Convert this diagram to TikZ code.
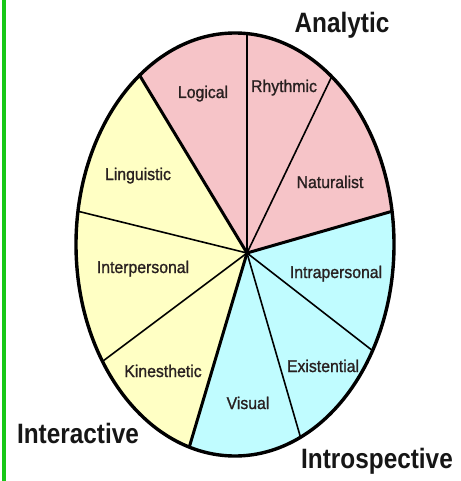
\documentclass[tikz,border=0pt]{standalone}
\usepackage{fontspec}
\setmainfont{Liberation Sans}
\newfontfamily\segfont[FakeBold=1.2]{Liberation Sans}
\usetikzlibrary{calc}
\definecolor{pinkfill}{RGB}{246,196,200}
\definecolor{yellowfill}{RGB}{255,255,196}
\definecolor{cyanfill}{RGB}{192,252,255}
\definecolor{segtext}{RGB}{40,32,32}
\definecolor{grouptext}{RGB}{22,22,22}
\definecolor{bargreen}{RGB}{24,200,24}
\newcommand{\segtxt}[1]{\scalebox{0.93}[1]{#1}}
\newcommand{\grptxt}[1]{\scalebox{0.87}[1]{#1}}
\begin{document}
\begin{tikzpicture}[x=1pt,y=-1pt,
  outline/.style={line width=3.4pt},
  thickspoke/.style={line width=3pt},
  thinspoke/.style={line width=1.6pt},
  seglabel/.style={anchor=base, inner sep=0pt, text=segtext, font=\segfont\fontsize{17}{17}\selectfont},
  grouplabel/.style={anchor=base, inner sep=0pt, text=grouptext, font=\fontsize{28}{28}\selectfont\bfseries}]
\useasboundingbox (0,0) rectangle (460,481);
\fill[white] (0,0) rectangle (460,481);
\fill[bargreen] (2,0) rectangle (6,481);
\coordinate (C) at (235,244.5);
\coordinate (hub) at (247,253);
\coordinate (pTop) at (247,33);
\coordinate (pLogLin) at (140,76);
\coordinate (pLinInt) at (77,211);
\coordinate (pIntKin) at (103,361);
\coordinate (pKinVis) at (189,448);
\coordinate (pVisExi) at (301,439);
\coordinate (pExiIntra) at (373,351);
\coordinate (pIntraNat) at (393,211);
\coordinate (pNatRhy) at (332,76);
\begin{scope}
  \clip (C) ellipse [x radius=159pt, y radius=211.5pt];
  \fill[pinkfill] (hub) -- ($(hub)!3!(pLogLin)$) -- ($(hub)!3!(pTop)$) -- ($(hub)!3!(pNatRhy)$) -- ($(hub)!3!(pIntraNat)$) -- cycle;
  \fill[yellowfill] (hub) -- ($(hub)!3!(pLogLin)$) -- ($(hub)!3!(pLinInt)$) -- ($(hub)!3!(pIntKin)$) -- ($(hub)!3!(pKinVis)$) -- cycle;
  \fill[cyanfill] (hub) -- ($(hub)!3!(pKinVis)$) -- ($(hub)!3!(pVisExi)$) -- ($(hub)!3!(pExiIntra)$) -- ($(hub)!3!(pIntraNat)$) -- cycle;
  \draw[thinspoke] (hub) -- ($(hub)!1.1!(pTop)$);
  \draw[thinspoke] (hub) -- ($(hub)!1.1!(pNatRhy)$);
  \draw[thinspoke] (hub) -- ($(hub)!1.1!(pLinInt)$);
  \draw[thinspoke] (hub) -- ($(hub)!1.1!(pIntKin)$);
  \draw[thinspoke] (hub) -- ($(hub)!1.1!(pVisExi)$);
  \draw[thinspoke] (hub) -- ($(hub)!1.1!(pExiIntra)$);
  \draw[thickspoke] (hub) -- ($(hub)!1.1!(pLogLin)$);
  \draw[thickspoke] (hub) -- ($(hub)!1.1!(pKinVis)$);
  \draw[thickspoke] (hub) -- ($(hub)!1.1!(pIntraNat)$);
\end{scope}
\draw[outline] (C) ellipse [x radius=159pt, y radius=211.5pt];
\node[seglabel] (logical) at (203,98) {\segtxt{Logical}};
\node[seglabel] (rhythmic) at (284,92) {\segtxt{Rhythmic}};
\node[seglabel] (naturalist) at (330,188) {\segtxt{Naturalist}};
\node[seglabel] (linguistic) at (138,180) {\segtxt{Linguistic}};
\node[seglabel] (interpersonal) at (143,273) {\segtxt{Interpersonal}};
\node[seglabel] (intrapersonal) at (336,278) {\segtxt{Intrapersonal}};
\node[seglabel] (existential) at (323,372) {\segtxt{Existential}};
\node[seglabel] (kinesthetic) at (163,377) {\segtxt{Kinesthetic}};
\node[seglabel] (visual) at (248,409) {\segtxt{Visual}};
\node[grouplabel] (analytic) at (342,33) {\grptxt{Analytic}};
\node[grouplabel] (interactive) at (78,443) {\grptxt{Interactive}};
\node[grouplabel] (introspective) at (377,468) {\grptxt{Introspective}};
\end{tikzpicture}
\end{document}
